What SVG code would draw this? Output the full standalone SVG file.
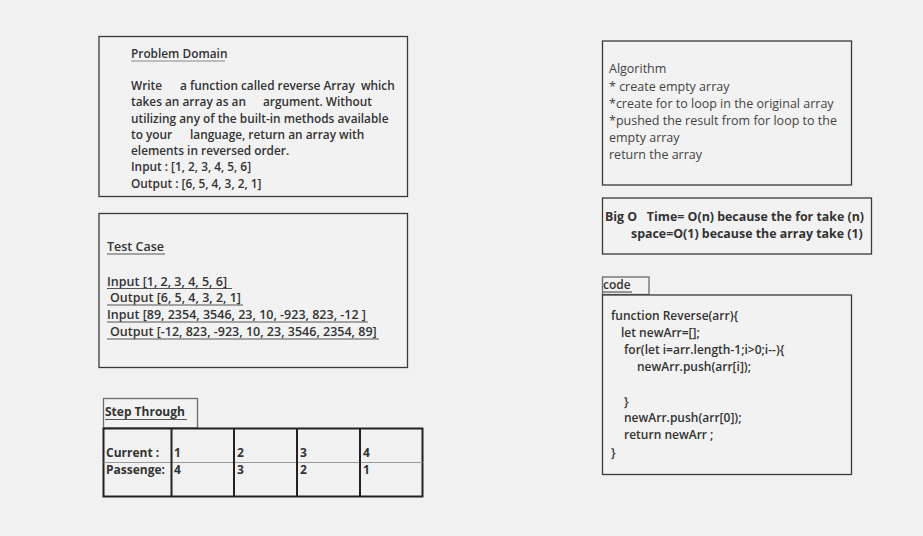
<svg xmlns="http://www.w3.org/2000/svg" width="923" height="536" viewBox="0 0 923 536">
<style>
.box{fill:#f2f2f2;stroke:#3a3a3a;stroke-width:1.3}
.lbl{fill:#f2f2f2;stroke:#6a6a6a;stroke-width:1.3}
.b{font-family:"Open Sans","Noto Sans",sans-serif;font-weight:600;font-size:11.85px;fill:#333;white-space:pre}
.b12{font-family:"Open Sans","Noto Sans",sans-serif;font-weight:600;font-size:12px;fill:#333;white-space:pre}
.tc{font-family:"Open Sans","Noto Sans",sans-serif;font-weight:600;font-size:12.5px;fill:#333;white-space:pre}
.bb{font-family:"Open Sans","Noto Sans",sans-serif;font-weight:700;font-size:12px;fill:#333;white-space:pre}
.bo{font-family:"Open Sans","Noto Sans",sans-serif;font-weight:700;font-size:12.4px;fill:#333;white-space:pre}
.n{font-family:"Open Sans","Noto Sans",sans-serif;font-weight:400;font-size:12.5px;fill:#444}
.ul{stroke:#555;stroke-width:1.2}
.ulg{stroke:#888;stroke-width:1.2}
.tb{fill:none;stroke:#222;stroke-width:2}
</style>
<rect x="0" y="0" width="923" height="536" fill="#f1f1f1"/>

<g id="problem-domain">
<rect class="box" x="99" y="36.5" width="308.5" height="160"/>
<text class="b" x="131" y="58" font-size="11.3">Problem Domain</text>
<line class="ulg" x1="131" y1="61" x2="225" y2="61"/>
<text class="b" y="90" xml:space="preserve"><tspan x="131">Write</tspan><tspan x="180">a function called reverse Array  which</tspan></text>
<text class="b" y="106"><tspan x="131">takes an array as an</tspan><tspan x="263">argument. Without</tspan></text>
<text class="b" x="131" y="123">utilizing any of the built-in methods available</text>
<text class="b" y="139"><tspan x="131">to your</tspan><tspan x="190">language, return an array with</tspan></text>
<text class="b" x="131" y="155">elements in reversed order.</text>
<text class="b" x="131" y="171">Input : [1, 2, 3, 4, 5, 6]</text>
<text class="b" x="131" y="188">Output : [6, 5, 4, 3, 2, 1]</text>
</g>

<g id="test-case">
<rect class="box" x="99" y="213.5" width="308.5" height="154"/>
<text class="tc" x="107" y="251">Test Case</text>
<line class="ul" x1="107" y1="254" x2="165" y2="254"/>
<text class="tc" x="107" y="286">Input [1, 2, 3, 4, 5, 6]</text>
<line class="ul" x1="107" y1="288.5" x2="232" y2="288.5"/>
<text class="tc" x="110" y="302">Output [6, 5, 4, 3, 2, 1]</text>
<line class="ul" x1="107" y1="305" x2="243" y2="305"/>
<text class="tc" x="107" y="319">Input [89, 2354, 3546, 23, 10, -923, 823, -12 ]</text>
<line class="ul" x1="107" y1="322" x2="368" y2="322"/>
<text class="tc" x="110" y="336">Output [-12, 823, -923, 10, 23, 3546, 2354, 89]</text>
<line class="ul" x1="107" y1="339" x2="379" y2="339"/>
</g>

<g id="step-through">
<rect class="lbl" x="103.5" y="398.5" width="94" height="29.5"/>
<text class="bb" x="105" y="416">Step Through</text>
<line class="ul" x1="105" y1="419.5" x2="187" y2="419.5"/>
<rect class="tb" x="103.5" y="428.5" width="319" height="68"/>
<line x1="103.5" y1="462.5" x2="422.5" y2="462.5" stroke="#999" stroke-width="1"/>
<line class="tb" x1="171.5" y1="428.5" x2="171.5" y2="496.5"/>
<line class="tb" x1="234" y1="428.5" x2="234" y2="496.5"/>
<line class="tb" x1="297" y1="428.5" x2="297" y2="496.5"/>
<line class="tb" x1="360" y1="428.5" x2="360" y2="496.5"/>
<text class="bb" x="106" y="457">Current :</text>
<text class="bb" x="106" y="474">Passenge:</text>
<text class="bb" x="174" y="457">1</text>
<text class="bb" x="174" y="474">4</text>
<text class="bb" x="237" y="457">2</text>
<text class="bb" x="237" y="474">3</text>
<text class="bb" x="300" y="457">3</text>
<text class="bb" x="300" y="474">2</text>
<text class="bb" x="363" y="457">4</text>
<text class="bb" x="363" y="474">1</text>
</g>

<g id="algorithm">
<rect class="box" x="602.5" y="41" width="249" height="144"/>
<text class="n" x="609" y="73">Algorithm</text>
<text class="n" x="609" y="91">* create empty array</text>
<text class="n" x="609" y="108">*create for to loop in the original array</text>
<text class="n" x="609" y="125">*pushed the result from for loop to the</text>
<text class="n" x="609" y="142">empty array</text>
<text class="n" x="609" y="159">return the array</text>
</g>

<g id="big-o">
<rect class="box" x="602.5" y="198" width="269" height="56"/>
<text class="bo" x="605" y="221" xml:space="preserve">Big O   Time= O(n) because the for take (n)</text>
<text class="bo" x="631" y="238">space=O(1) because the array take (1)</text>
</g>

<g id="code">
<rect class="lbl" x="602.5" y="277" width="46.5" height="17.5"/>
<text class="b12" x="603" y="289">code</text>
<line class="ul" x1="603" y1="292" x2="632" y2="292"/>
<rect class="box" x="602.5" y="295" width="249" height="179.5"/>
<text class="b12" x="611" y="320">function Reverse(arr){</text>
<text class="b12" x="621" y="337">let newArr=[];</text>
<text class="b12" x="624" y="354">for(let i=arr.length-1;i&gt;0;i--){</text>
<text class="b12" x="637" y="371">newArr.push(arr[i]);</text>
<text class="b12" x="624" y="406">}</text>
<text class="b12" x="624" y="422">newArr.push(arr[0]);</text>
<text class="b12" x="624" y="439">return newArr ;</text>
<text class="b12" x="611" y="457">}</text>
</g>

<g id="connectors"></g>
</svg>
